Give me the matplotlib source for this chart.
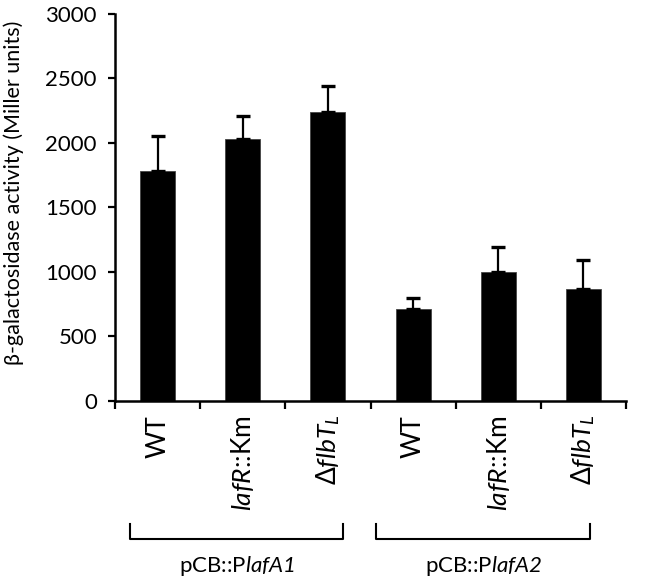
import numpy as np
import matplotlib.pyplot as plt
import matplotlib.transforms as mtransforms

plt.rcParams['font.family'] = ['Lato', 'DejaVu Sans']
plt.rcParams['mathtext.fontset'] = 'custom'
plt.rcParams['mathtext.rm'] = 'Lato:italic'
plt.rcParams['mathtext.it'] = 'Lato:italic'

strains = ['WT', r'$\it{lafR}$::Km', u'\u0394' + r'$\it{flbT}_{L}$',
           'WT', r'$\it{lafR}$::Km', u'\u0394' + r'$\it{flbT}_{L}$']
activity = [1780, 2030, 2240, 710, 1000, 870]
activity_err = [270, 180, 200, 85, 190, 225]
groups = [r'pCB::P$\it{lafA1}$', r'pCB::P$\it{lafA2}$']
group_span = [(-0.32, 2.18), (2.57, 5.08)]


def plot_activity():
    fig = plt.figure(figsize=(6.66, 5.81), dpi=100)
    ax = fig.add_axes([0.1727, 0.31, 0.7673, 0.666])

    x = np.arange(len(activity))
    ax.bar(x, activity, width=0.41, color='black', edgecolor='#444444', linewidth=0.6, zorder=2)
    ax.errorbar(x, activity, yerr=[np.zeros(len(activity_err)), activity_err],
                fmt='none', ecolor='black', elinewidth=1.6, capsize=5, capthick=2.4, zorder=3)

    ax.set_xlim(-0.5, 5.5)
    ax.set_ylim(0, 3000)
    ax.set_yticks(np.arange(0, 3001, 500))
    ax.tick_params(axis='y', labelsize=16, length=5, width=1.6, direction='out', pad=8)

    ax.set_xticks(np.arange(-0.5, 6, 1))
    ax.set_xticklabels([])
    ax.tick_params(axis='x', which='major', length=6, width=1.6, direction='out')
    ax.set_xticks(x, minor=True)
    ax.set_xticklabels(strains, minor=True, rotation=90, fontsize=19, va='top')
    ax.tick_params(axis='x', which='minor', length=0, pad=10)

    for side in ['top', 'right']:
        ax.spines[side].set_visible(False)
    for side in ['left', 'bottom']:
        ax.spines[side].set_linewidth(1.8)

    fig.text(14 / 666, 1 - 193 / 581, u'\u03b2-galactosidase activity (Miller units)',
             rotation=90, ha='center', va='center', fontsize=15.5)

    trans = mtransforms.blended_transform_factory(ax.transData, ax.transAxes)
    for name, (x0, x1) in zip(groups, group_span):
        ax.plot([x0, x0, x1, x1], [-0.318, -0.357, -0.357, -0.318], color='black',
                linewidth=1.5, transform=trans, clip_on=False)
        ax.text((x0 + x1) / 2, -0.427, name, transform=trans, ha='center', va='center',
                fontsize=16)

    fig.savefig('out.png', dpi=100)


if __name__ == "__main__":
    plot_activity()
